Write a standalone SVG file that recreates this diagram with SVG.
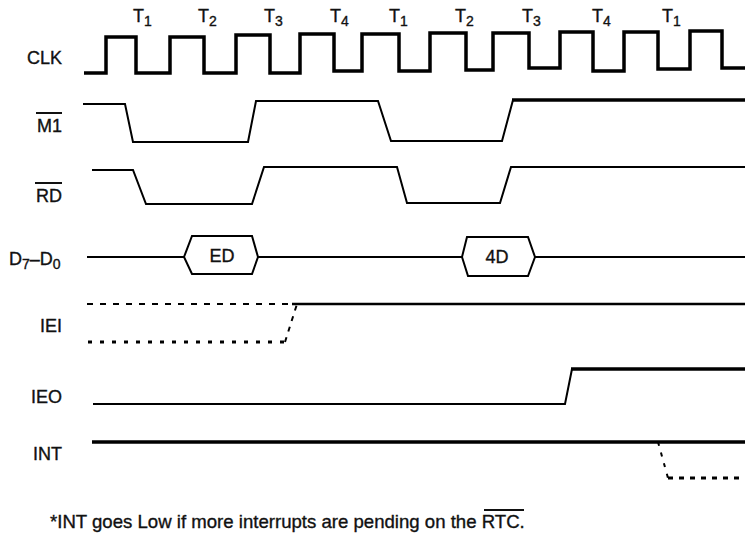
<svg xmlns="http://www.w3.org/2000/svg" width="745" height="533" viewBox="0 0 745 533">
<style>
text{font-family:"Liberation Sans",Arial,sans-serif;font-size:18px;fill:#111;stroke:#111;stroke-width:0.35}
.lbl{text-anchor:end}
.tl{text-anchor:start}
.sub{font-size:14px}
.w{fill:none;stroke:#000;stroke-width:2;stroke-linejoin:miter}
.wt{fill:none;stroke:#000;stroke-width:3.5}
.ov{stroke:#111;stroke-width:2}
.dash{fill:none;stroke:#000;stroke-width:2;stroke-dasharray:6 7}
.dot{fill:none;stroke:#000;stroke-width:3;stroke-dasharray:4 8}
</style>
<rect width="745" height="533" fill="#fff"/>
<g id="tstates">
<text class="tl" x="133" y="22">T<tspan class="sub" dy="4">1</tspan></text>
<text class="tl" x="198" y="22">T<tspan class="sub" dy="4">2</tspan></text>
<text class="tl" x="264" y="22">T<tspan class="sub" dy="4">3</tspan></text>
<text class="tl" x="330" y="22">T<tspan class="sub" dy="4">4</tspan></text>
<text class="tl" x="389" y="22">T<tspan class="sub" dy="4">1</tspan></text>
<text class="tl" x="455" y="22">T<tspan class="sub" dy="4">2</tspan></text>
<text class="tl" x="522" y="22">T<tspan class="sub" dy="4">3</tspan></text>
<text class="tl" x="592" y="22">T<tspan class="sub" dy="4">4</tspan></text>
<text class="tl" x="662" y="22">T<tspan class="sub" dy="4">1</tspan></text>
</g>
<g id="clk">
<text class="lbl" x="62" y="64">CLK</text>
<path class="wt" d="M84,73 H106 V37 H136 V73 H170 V37 H204 V73 H236 V35 H270 V73 H300 V34 H334 V71 H362 V34 H399 V71 H430 V33 H466 V70 H493 V33 H529 V68 H560 V32 H593 V71 H624 V32 H658 V69 H690 V31 H722 V68 H745"/>
</g>
<g id="m1">
<text class="lbl" x="62" y="132">M1</text>
<line class="ov" x1="36" y1="113" x2="62" y2="113"/>
<path class="w" d="M83,104 H125 L133,142 H248 L256,101 H378 L391,141 H502 L513,100"/>
<path class="wt" d="M512,100 H745"/>
</g>
<g id="rd">
<text class="lbl" x="62" y="202">RD</text>
<line class="ov" x1="35" y1="183" x2="62" y2="183"/>
<path class="w" d="M92,170 H133 L146,204 H252 L264,167 H397 L407,203 H500 L511,167 H745"/>
</g>
<g id="data">
<text x="9" y="265">D<tspan class="sub" dy="4">7</tspan><tspan dy="-4">–D</tspan><tspan class="sub" dy="4">0</tspan></text>
<path class="w" d="M87,257 H184 M258,257 H462 M535,257 H745"/>
<path class="w" d="M184,257 L192,236 H252 L258,257 L252,274 H192 Z"/>
<text x="222" y="262" text-anchor="middle">ED</text>
<path class="w" d="M462,257 L467,237 H528 L535,257 L528,276 H468 Z"/>
<text x="497" y="263" text-anchor="middle">4D</text>
</g>
<g id="iei">
<text class="lbl" x="62" y="332">IEI</text>
<path class="dash" d="M87,304 H292"/>
<path class="dot" d="M88,342 H284"/>
<path class="dash" d="M285,342 L297,304" style="stroke-dasharray:5 6"/>
<path class="w" d="M292,304 H745" style="stroke-width:2.5"/>
</g>
<g id="ieo">
<text class="lbl" x="62" y="403">IEO</text>
<path class="w" d="M93,404 H565 L572,369"/>
<path class="wt" d="M571,369 H745"/>
</g>
<g id="int">
<text class="lbl" x="62" y="460">INT</text>
<path class="wt" d="M92,442 H745"/>
<path class="dash" d="M658,442 L668,478" style="stroke-dasharray:4 7"/>
<path class="dot" d="M668,478 H745" style="stroke-dasharray:5 6"/>
</g>
<g id="footnote">
<text x="50" y="528" style="font-size:18.6px">*INT goes Low if more interrupts are pending on the RTC.</text>
<line class="ov" x1="484" y1="510" x2="524" y2="510"/>
</g>
</svg>
